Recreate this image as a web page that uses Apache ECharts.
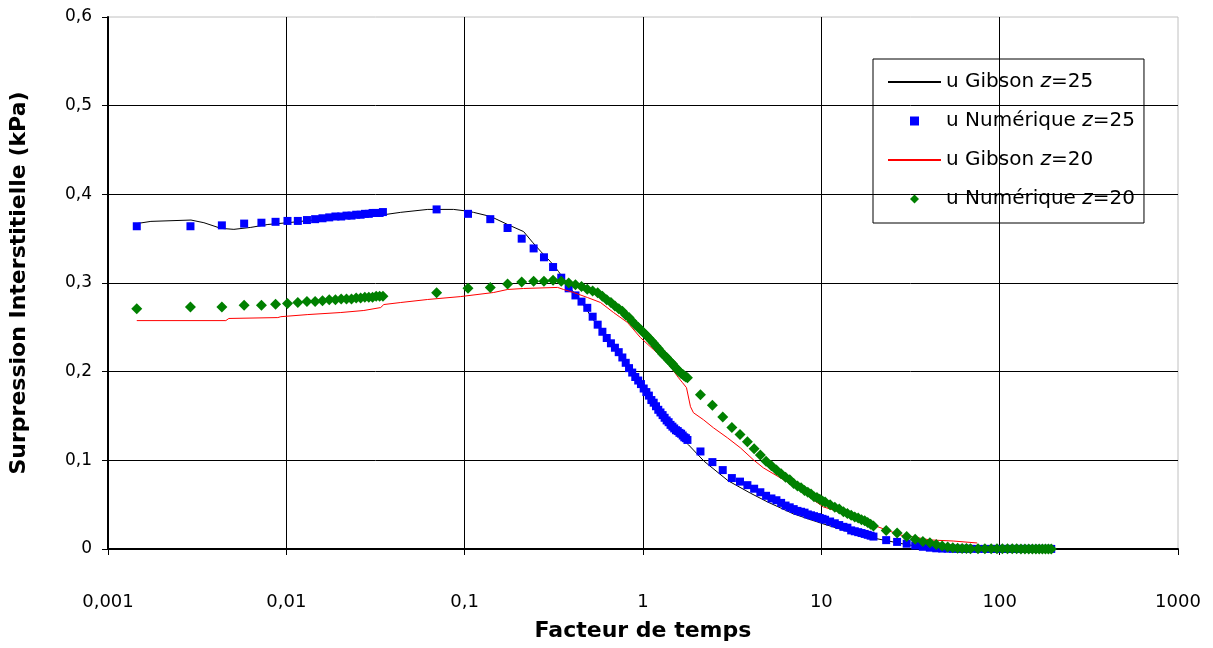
<!DOCTYPE html>
<html>
<head>
<meta charset="utf-8">
<script src="https://cdn.jsdelivr.net/npm/echarts@6/dist/echarts.min.js"></script>
<style>
  html, body { margin: 0; padding: 0; background: #fff; }
  #main { width: 1213px; height: 648px; }
</style>
</head>
<body>
<div id="main"></div>
<script>
// temps du calcul numérique (partagé par z=25 et z=20)
var tNum = [
  0.00145, 0.0029, 0.00435, 0.0058, 0.00725, 0.0087, 0.01015, 0.0116, 0.01305, 0.0145, 0.01595, 0.0174,
  0.01885, 0.0203, 0.02175, 0.0232, 0.02465, 0.0261, 0.02755, 0.029, 0.03045, 0.0319, 0.03335, 0.0348,
  0.0696, 0.1044, 0.1392, 0.174, 0.2088, 0.2436, 0.2784, 0.3132, 0.348,
  0.383, 0.418, 0.452, 0.487, 0.522, 0.557, 0.592, 0.626, 0.661, 0.696, 0.731, 0.766, 0.800, 0.835,
  0.870, 0.905, 0.940, 0.974, 1.009, 1.044, 1.079, 1.114, 1.148, 1.183, 1.218, 1.253, 1.288, 1.322,
  1.357, 1.392, 1.427, 1.462, 1.496, 1.531, 1.566, 1.601, 1.636, 1.670, 1.705, 1.740, 1.775,
  2.1, 2.45, 2.8, 3.15, 3.5, 3.85, 4.2, 4.55, 4.9, 5.25, 5.6, 5.95, 6.3, 6.65, 7.0, 7.35, 7.7, 8.05,
  8.4, 8.75, 9.1, 9.45, 9.8, 10.15, 10.5,
  11.2, 11.9, 12.6, 13.3, 14.0, 14.7, 15.4, 16.1, 16.8, 17.5, 18.2, 18.9, 19.6,
  23.1, 26.6, 30.1, 33.6, 37.1, 40.6, 44.1, 47.6, 51.1, 54.6, 58.1, 61.6, 65.1, 68.6,
  75.6, 82.6, 89.6, 96.6, 103.6, 110.6, 117.6, 124.6, 131.6, 138.6, 145.6, 152.6, 159.6, 166.6,
  173.6, 180.6, 187.6, 194.6
];

// u Numérique z=25
var uNum25 = [
  0.364, 0.364, 0.365, 0.367, 0.368, 0.369, 0.370, 0.370, 0.371, 0.372, 0.373, 0.374,
  0.375, 0.375, 0.376, 0.376, 0.377, 0.377, 0.378, 0.378, 0.379, 0.379, 0.379, 0.380,
  0.383, 0.378, 0.372, 0.362, 0.350, 0.339, 0.329, 0.318, 0.306,
  0.294, 0.286, 0.279, 0.272, 0.262, 0.253, 0.245, 0.238, 0.232, 0.227, 0.222, 0.216, 0.210, 0.204,
  0.199, 0.194, 0.190, 0.186, 0.181, 0.177, 0.173, 0.168, 0.165, 0.161, 0.157, 0.154, 0.151, 0.148,
  0.145, 0.143, 0.140, 0.138, 0.136, 0.134, 0.133, 0.131, 0.130, 0.128, 0.126, 0.125, 0.123,
  0.110, 0.098, 0.089, 0.080, 0.076, 0.072, 0.068, 0.064, 0.060, 0.057, 0.055, 0.052, 0.049, 0.047,
  0.045, 0.043, 0.042, 0.041, 0.039, 0.038, 0.037, 0.036, 0.035, 0.034, 0.033,
  0.031, 0.029, 0.027, 0.025, 0.024, 0.021, 0.020, 0.019, 0.018, 0.017, 0.016, 0.015, 0.014,
  0.010, 0.008, 0.006, 0.004, 0.0025, 0.0015, 0.0008, 0.0005, 0.0004, 0.0003, 0.0003, 0.0002, 0.0002, 0.0002,
  0.0001, 0.0001, 0.0001, 0.0001, 0.0001, 0.0001, 0.0001, 0.0001, 0.0001, 0.0001, 0.0001, 0.0001, 0.0001, 0.0001,
  0.0001, 0.0001, 0.0001, 0.0001
];

// u Numérique z=20
var uNum20 = [
  0.271, 0.273, 0.273, 0.275, 0.275, 0.276, 0.277, 0.278, 0.279, 0.279, 0.280, 0.281,
  0.281, 0.282, 0.282, 0.282, 0.283, 0.283, 0.284, 0.284, 0.284, 0.285, 0.285, 0.285,
  0.289, 0.294, 0.295, 0.299, 0.301, 0.302, 0.302, 0.303, 0.302,
  0.300, 0.298, 0.296, 0.293, 0.291, 0.289, 0.285, 0.281, 0.278, 0.274, 0.271, 0.268, 0.264, 0.261,
  0.257, 0.253, 0.250, 0.247, 0.244, 0.241, 0.238, 0.235, 0.232, 0.229, 0.226, 0.223, 0.220, 0.218,
  0.216, 0.213, 0.211, 0.209, 0.206, 0.204, 0.202, 0.200, 0.198, 0.197, 0.195, 0.194, 0.193,
  0.174, 0.162, 0.149, 0.137, 0.129, 0.121, 0.113, 0.106, 0.099, 0.094, 0.089, 0.085, 0.081, 0.078,
  0.074, 0.071, 0.069, 0.066, 0.064, 0.062, 0.059, 0.058, 0.056, 0.054, 0.053,
  0.050, 0.047, 0.045, 0.042, 0.040, 0.038, 0.036, 0.035, 0.033, 0.032, 0.030, 0.028, 0.026,
  0.021, 0.018, 0.014, 0.011, 0.0085, 0.007, 0.005, 0.0035, 0.0023, 0.0014, 0.0009, 0.0006, 0.0005, 0.0004,
  0.0003, 0.0003, 0.0003, 0.0002, 0.0002, 0.0002, 0.0002, 0.0002, 0.0001, 0.0001, 0.0001, 0.0001, 0.0001, 0.0001,
  0.0001, 0.0001, 0.0001, 0.0001
];

// u Gibson z=25
var tGib25 = [0.00145, 0.00174, 0.00292, 0.00345, 0.0043, 0.00508, 0.00632, 0.00788, 0.0102, 0.01775, 0.0352,
  0.0438, 0.0621, 0.0867, 0.104, 0.112, 0.140, 0.174, 0.214, 0.240, 0.267, 0.303, 0.336, 0.378,
  0.45, 0.55, 0.7, 0.9, 1.1, 1.4, 1.8, 2.2, 3.0, 4.0, 5.0, 7.0, 10, 14, 20, 30, 40, 55, 80, 190];
var uGib25 = [0.367, 0.3695, 0.371, 0.368, 0.3616, 0.3605, 0.3627, 0.366, 0.368, 0.373, 0.377,
  0.3797, 0.383, 0.383, 0.381, 0.3797, 0.375, 0.366, 0.358, 0.346, 0.3356, 0.324, 0.313, 0.298,
  0.279, 0.253, 0.225, 0.193, 0.167, 0.139, 0.1175, 0.099, 0.077, 0.063, 0.053, 0.0395, 0.029, 0.020,
  0.012, 0.005, 0.0015, 0.0006, 0.0003, 0.0001];

// u Gibson z=20
var tGib20 = [0.00145, 0.00458, 0.00476, 0.00896, 0.00931, 0.0132, 0.0202, 0.0272, 0.0338, 0.0352, 0.0438,
  0.062, 0.095, 0.1454, 0.174, 0.214, 0.332, 0.3586, 0.408, 0.4887, 0.578, 0.6835, 0.819, 0.968, 1.145,
  1.372, 1.581, 1.665, 1.753, 1.846, 1.918, 2.182, 2.483, 2.975, 3.517, 4.159, 4.732, 5.893, 7.338,
  9.02, 10.26, 11.67, 18.1, 27.7, 32.8, 40.8, 54.9, 74.8];
var uGib20 = [0.2576, 0.2576, 0.260, 0.261, 0.262, 0.2644, 0.2667, 0.269, 0.2723, 0.2757, 0.278,
  0.2814, 0.2847, 0.2893, 0.2927, 0.2938, 0.295, 0.2927, 0.2893, 0.2836, 0.278, 0.2667, 0.2554, 0.2384, 0.2249,
  0.2102, 0.1932, 0.1876, 0.182, 0.1605, 0.1537, 0.1458, 0.1367, 0.1254, 0.1141, 0.1006, 0.0915, 0.0802, 0.0689,
  0.0554, 0.0475, 0.0441, 0.0294, 0.0158, 0.0136, 0.0102, 0.009, 0.0068];

function paires(t, u) {
  return t.map(function (x, i) { return [x, u[i]]; });
}
function virgule(v) {
  return String(+v.toPrecision(6)).replace('.', ',');
}

var myChart = echarts.init(document.getElementById('main'));

var option = {
  animation: false,
  backgroundColor: '#fff',
  textStyle: { fontFamily: 'DejaVu Sans', color: '#000' },
  grid: {
    left: 107, right: 35, top: 17, bottom: 99,
    show: true, borderColor: '#c0c0c0', borderWidth: 1
  },
  legend: {
    orient: 'vertical',
    left: 873, top: 59,
    padding: [13, 9, 14, 14],
    borderColor: '#000', borderWidth: 1,
    itemWidth: 53, itemHeight: 9, itemGap: 19,
    symbolKeepAspect: true,
    data: [
      { name: 'u Gibson z=25', itemStyle: { opacity: 0 } },
      { name: 'u Numérique z=25', icon: 'path://M0,0H10V10H0Z' },
      { name: 'u Gibson z=20', itemStyle: { opacity: 0 } },
      { name: 'u Numérique z=20', icon: 'path://M5,0L10,5L5,10L0,5Z' }
    ],
    formatter: function (name) {
      var p = name.split('z');
      return '{n|' + p[0] + '}{i|z}{n|' + p[1] + '}';
    },
    textStyle: {
      rich: {
        n: { fontFamily: 'DejaVu Sans', fontSize: 20, lineHeight: 20, color: '#000' },
        i: { fontFamily: 'DejaVu Sans', fontSize: 20, lineHeight: 20, fontStyle: 'italic', color: '#000' }
      }
    }
  },
  xAxis: {
    type: 'log',
    logBase: 10,
    min: 0.001,
    max: 1000,
    name: 'Facteur de temps',
    nameLocation: 'middle',
    nameGap: 71,
    nameTextStyle: { fontFamily: 'DejaVu Sans', fontWeight: 'bold', fontSize: 22, color: '#000' },
    axisLine: { lineStyle: { color: '#000', width: 2 } },
    axisTick: { show: true, length: 6, lineStyle: { color: '#000', width: 1 } },
    axisLabel: { margin: 44, fontSize: 18, color: '#000', formatter: virgule },
    splitLine: { show: true, showMinLine: false, showMaxLine: false, lineStyle: { color: '#000', width: 1 } },
    minorTick: { show: false }
  },
  yAxis: {
    type: 'value',
    min: 0,
    max: 0.6,
    interval: 0.1,
    name: 'Surpression Interstitielle (kPa)',
    nameLocation: 'middle',
    nameGap: 78,
    nameTextStyle: { fontFamily: 'DejaVu Sans', fontWeight: 'bold', fontSize: 22, color: '#000' },
    axisLine: { show: true, lineStyle: { color: '#000', width: 2 } },
    axisTick: { show: true, length: 6, lineStyle: { color: '#000', width: 1 } },
    axisLabel: {
      margin: 16, fontSize: 17, color: '#000',
      formatter: function (v) { return String(+v.toFixed(1)).replace('.', ','); }
    },
    splitLine: { show: true, showMinLine: false, showMaxLine: false, lineStyle: { color: '#000', width: 1 } }
  },
  series: [
    {
      name: 'u Gibson z=25',
      type: 'line',
      data: paires(tGib25, uGib25),
      symbol: 'none',
      lineStyle: { color: '#000', width: 1 },
      itemStyle: { color: '#000' },
      z: 2
    },
    {
      name: 'u Numérique z=25',
      type: 'scatter',
      data: paires(tNum, uNum25),
      symbol: 'rect',
      symbolSize: 8,
      itemStyle: { color: '#0000ff', opacity: 1 },
      z: 3
    },
    {
      name: 'u Gibson z=20',
      type: 'line',
      data: paires(tGib20, uGib20),
      symbol: 'none',
      lineStyle: { color: '#ff0000', width: 1 },
      itemStyle: { color: '#ff0000' },
      z: 4
    },
    {
      name: 'u Numérique z=20',
      type: 'scatter',
      data: paires(tNum, uNum20),
      symbol: 'diamond',
      symbolSize: 11,
      itemStyle: { color: '#008000', opacity: 1 },
      z: 5
    }
  ]
};

myChart.setOption(option);
</script>
</body>
</html>
